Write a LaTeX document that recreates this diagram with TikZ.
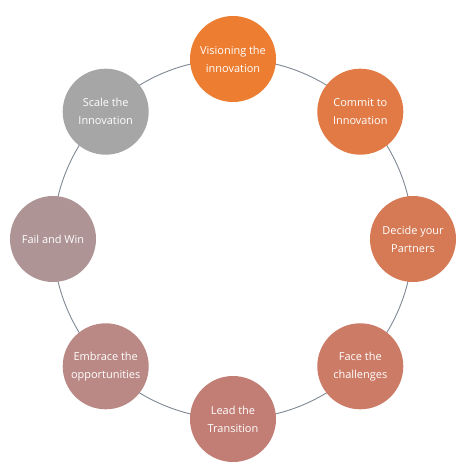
\documentclass[tikz,border=0pt]{standalone}
\usepackage{fontspec}
\setmainfont{Open Sans}
\begin{document}
\begin{tikzpicture}[x=1bp,y=-1bp,
  stage/.style={circle, minimum size=86bp, inner sep=0pt, text=white,
    align=center, font=\fontsize{11}{18}\selectfont},
  ring/.style={draw=ringgray, line width=0.9bp}]
\definecolor{ringgray}{HTML}{7F8893}
\definecolor{c1}{HTML}{ED7D31}
\definecolor{c2}{HTML}{E27A45}
\definecolor{c3}{HTML}{D57A55}
\definecolor{c4}{HTML}{CC7C66}
\definecolor{c5}{HTML}{C27E75}
\definecolor{c6}{HTML}{BA8985}
\definecolor{c7}{HTML}{AE9495}
\definecolor{c8}{HTML}{A6A6A6}
\useasboundingbox[fill=white] (0,0) rectangle (460,471);
\coordinate (c) at (233,239);
\draw[ring] (c) circle (180);
\node[stage, fill=c1] (n1) at (233,59) {Visioning the\\innovation};
\node[stage, fill=c2] (n2) at (360.3,111.7) {Commit to\\Innovation};
\node[stage, fill=c3] (n3) at (413,239) {Decide your\\Partners};
\node[stage, fill=c4] (n4) at (360.3,366.3) {Face the\\challenges};
\node[stage, fill=c5] (n5) at (233,419) {Lead the\\Transition};
\node[stage, fill=c6] (n6) at (105.7,366.3) {Embrace the\\opportunities};
\node[stage, fill=c7] (n7) at (53,239) {Fail and Win};
\node[stage, fill=c8] (n8) at (105.7,111.7) {Scale the\\Innovation};
\end{tikzpicture}
\end{document}
